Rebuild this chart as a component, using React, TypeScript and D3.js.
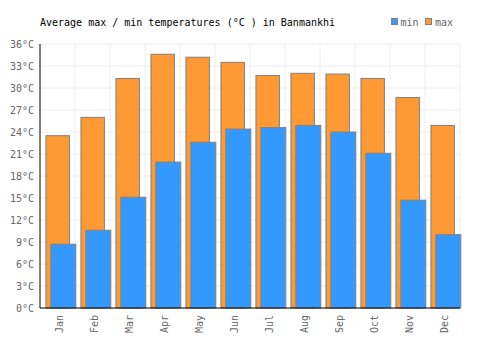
import React from "react";
import * as d3 from "d3";

const months = ["Jan","Feb","Mar","Apr","May","Jun","Jul","Aug","Sep","Oct","Nov","Dec"];
const maxTemps = [23.5, 26.0, 31.3, 34.6, 34.2, 33.5, 31.7, 32.0, 31.9, 31.3, 28.7, 24.9];
const minTemps = [8.7, 10.6, 15.1, 19.9, 22.6, 24.4, 24.6, 24.9, 24.0, 21.1, 14.7, 10.0];
const yTicks = [0, 3, 6, 9, 12, 15, 18, 21, 24, 27, 30, 33, 36];

const W = 500, H = 350;
const L = 40, R = 460, T = 44, B = 308;
const FONT = "'DejaVu Sans Mono', monospace";

export default function App() {
  const x = d3.scaleBand<string>().domain(months).range([L, R]);
  const y = d3.scaleLinear().domain([0, 36]).range([B, T]);
  const bw = x.bandwidth();
  const barW = bw * 0.67;
  return (
    <svg width={W} height={H} style={{ position: "absolute", left: 0, top: 0 }}>
      <rect width={W} height={H} fill="#fff" />
      {yTicks.map((t) => (
        <line key={"h" + t} x1={L} x2={R} y1={y(t)} y2={y(t)} stroke="#eeeeee" strokeWidth={1} />
      ))}
      {months.map((m) => (
        <line key={"v" + m} x1={(x(m) as number) + bw} x2={(x(m) as number) + bw} y1={T} y2={B} stroke="#eeeeee" strokeWidth={1} />
      ))}
      {months.map((m, i) => (
        <rect key={"mx" + m} x={(x(m) as number) + bw * 0.17} y={y(maxTemps[i])} width={barW} height={B - y(maxTemps[i])}
          fill="#ff9933" stroke="#808080" strokeWidth={1} />
      ))}
      {months.map((m, i) => (
        <rect key={"mn" + m} x={(x(m) as number) + bw * 0.31} y={y(minTemps[i])} width={barW + 1.5} height={B - y(minTemps[i])}
          fill="#3399ff" stroke="#808080" strokeWidth={1} />
      ))}
      <line x1={L} x2={L} y1={T} y2={B} stroke="#000" strokeWidth={1} />
      <line x1={L} x2={R} y1={B} y2={B} stroke="#000" strokeWidth={1} />
      {yTicks.map((t) => (
        <text key={"yl" + t} x={34} y={y(t)} dy="0.35em" textAnchor="end" fontFamily={FONT} fontSize={10} fill="#666">
          {t}°C
        </text>
      ))}
      {months.map((m) => (
        <text key={"xl" + m} transform={`translate(${(x(m) as number) + bw / 2 + 1.5},${B + 7}) rotate(-90)`}
          textAnchor="end" dy="0.35em" fontFamily={FONT} fontSize={10} fill="#666">
          {m}
        </text>
      ))}
      <text x={40} y={26} fontFamily={FONT} fontSize={10} fill="#000">
        Average max / min temperatures (°C ) in Banmankhi
      </text>
      <rect x={391.5} y={18.5} width={6} height={6} fill="#3399ff" stroke="#808080" strokeWidth={1} />
      <text x={400.5} y={26} fontFamily={FONT} fontSize={10} fill="#666">min</text>
      <rect x={425.5} y={18.5} width={6} height={6} fill="#ff9933" stroke="#808080" strokeWidth={1} />
      <text x={435} y={26} fontFamily={FONT} fontSize={10} fill="#666">max</text>
    </svg>
  );
}
